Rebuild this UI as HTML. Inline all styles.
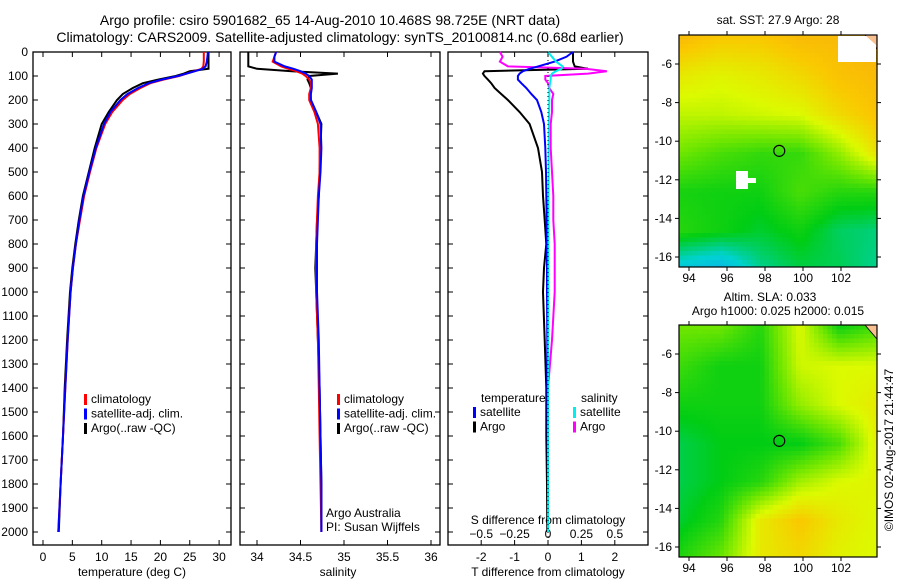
<!DOCTYPE html>
<html><head><meta charset="utf-8"><style>
body{margin:0;background:#fff;width:900px;height:580px;overflow:hidden}
svg{font-family:"Liberation Sans",sans-serif;font-size:12px}
</style></head><body>
<svg id="s" width="900" height="580" xmlns="http://www.w3.org/2000/svg">
<text x="330" y="25" text-anchor="middle" font-size="14">Argo profile: csiro 5901682_65 14-Aug-2010 10.468S 98.725E (NRT data)</text>
<text x="340" y="42" text-anchor="middle" font-size="14">Climatology: CARS2009. Satellite-adjusted climatology: synTS_20100814.nc (0.68d earlier)</text>
</svg>
<script>
// ---- data ----
const depths=[0,20,40,60,70,80,90,100,115,130,150,175,200,250,300,400,500,600,700,800,900,1000,1200,1400,1600,1800,2000];
const tClim=[27.4,27.4,27.4,27.3,27.0,25.8,24.5,23.2,20.5,18.3,16.6,14.8,13.6,11.8,10.6,9.1,8.0,7.0,6.3,5.6,5.1,4.7,4.2,3.8,3.4,3.0,2.6];
const tSat=[28.1,28.0,27.9,27.7,27.2,25.9,24.5,23.0,20.2,18.0,16.2,14.4,13.2,11.5,10.4,9.0,7.9,6.9,6.2,5.6,5.1,4.7,4.2,3.8,3.4,3.0,2.6];
const tArgo=[28.2,28.2,28.2,28.2,28.2,25.0,24.0,22.6,19.6,17.0,15.3,13.6,12.6,11.2,10.0,8.8,7.8,6.8,6.1,5.5,5.0,4.6,4.1,3.7,3.4,3.0,2.7];
const sClim=[34.22,34.2,34.18,34.28,34.36,34.45,34.52,34.56,34.6,34.62,34.62,34.6,34.6,34.66,34.7,34.72,34.72,34.7,34.69,34.68,34.68,34.68,34.7,34.71,34.72,34.73,34.74];
const sSat=[34.22,34.2,34.2,34.32,34.42,34.5,34.56,34.6,34.63,34.63,34.63,34.62,34.62,34.68,34.73,34.74,34.73,34.71,34.7,34.69,34.69,34.69,34.71,34.72,34.73,34.74,34.74];
const sArgo=[33.9,33.9,33.9,33.9,34.0,34.4,34.93,34.6,34.58,34.6,34.62,34.61,34.62,34.68,34.74,34.73,34.72,34.71,34.69,34.68,34.67,34.68,34.7,34.72,34.73,34.74,34.74];
const dTsat=[0.75,0.55,0.2,-0.3,-0.55,-0.75,-0.85,-0.9,-0.9,-0.8,-0.65,-0.5,-0.33,-0.2,-0.12,-0.08,-0.06,-0.05,-0.04,-0.03,-0.03,-0.03,-0.02,-0.02,-0.01,0,0];
const dTargo=[0.75,0.75,0.75,0.8,1.2,-1.9,-1.95,-1.9,-1.8,-1.7,-1.6,-1.4,-1.2,-0.85,-0.55,-0.3,-0.18,-0.15,-0.1,-0.05,-0.12,-0.15,-0.1,-0.05,-0.05,-0.03,-0.02];
const dSsat=[0,0.03,0.06,0.11,0.1,0.06,0.03,0.02,0.02,0.015,0.01,0.01,0.01,0.008,0.006,0.005,0.005,0.004,0.004,0.003,0.003,0.003,0.002,0.002,0.001,0.001,0.001];
const dSargo=[-0.36,-0.34,-0.36,-0.3,0.28,0.44,0.3,-0.02,-0.02,0,0.01,0.04,0.03,0.03,0.02,0.02,0.03,0.04,0.04,0.05,0.05,0.05,0.03,0.0,0.0,0.0,0.0];
const tTicks=[0,5,10,15,20,25,30];
const sTicks=[34,34.5,35,35.5,36];
const dtTicks=[-2,-1,0,1,2];
const dsTicks=[-0.5,-0.25,0,0.25,0.5];
const dsTickLabels=["-0.5","-0.25","0","0.25","0.5"];
const depthTicks=[0,100,200,300,400,500,600,700,800,900,1000,1100,1200,1300,1400,1500,1600,1700,1800,1900,2000];
const lonTicks=[94,96,98,100,102];
const latTicks=[-6,-8,-10,-12,-14,-16];
const sstField=[[0.9,0.85,0.85,0.9,0.9,0.95],[0.75,0.72,0.75,0.8,0.87,0.9],[0.66,0.66,0.68,0.7,0.8,0.87],[0.55,0.5,0.47,0.47,0.6,0.78],[0.43,0.42,0.42,0.5,0.45,0.45],[0.45,0.42,0.38,0.42,0.34,0.32],[0.2,0.15,0.3,0.36,0.35,0.3]];
const slaField=[[0.55,0.55,0.45,0.7,0.42,0.5],[0.48,0.42,0.42,0.68,0.7,0.7],[0.42,0.42,0.42,0.6,0.7,0.75],[0.36,0.4,0.4,0.4,0.5,0.75],[0.36,0.4,0.45,0.62,0.7,0.72],[0.38,0.45,0.75,0.85,0.75,0.7],[0.45,0.55,0.75,0.8,0.72,0.7]];

// ---- drawing ----
const S=document.getElementById('s');const NS="http://www.w3.org/2000/svg";
function el(t,a,txt){const e=document.createElementNS(NS,t);for(const k in a)e.setAttribute(k,a[k]);if(txt!==undefined)e.textContent=txt;S.appendChild(e);return e;}
const top0=52,bot=545,yD=d=>top0+d*0.24;
function panel(x0,x1,name){const r=el('rect',{x:x0,y:top0,width:x1-x0,height:bot-top0,fill:'none',stroke:'#000','stroke-width':1.3});

}
function line(xs,fx,color,name,w){let p='';for(let i=0;i<depths.length;i++){p+=(i?'L':'M')+fx(xs[i]).toFixed(1)+','+yD(depths[i]).toFixed(1);}
const e=el('path',{d:p,fill:'none',stroke:color,'stroke-width':w||2});

}
function xticks(ticks,fx,x0,x1,labels,ly){ticks.forEach((t,i)=>{const x=fx(t);el('line',{x1:x,x2:x,y1:bot,y2:bot-5,stroke:'#000'});el('line',{x1:x,x2:x,y1:top0,y2:top0+5,stroke:'#000'});
if(labels){const e=el('text',{x:x,y:ly,'text-anchor':'middle'},labels[i]);

}});}
function yticks(x0,x1,lab){depthTicks.forEach(d=>{const y=yD(d);el('line',{x1:x0,x2:x0+5,y1:y,y2:y,stroke:'#000'});el('line',{x1:x1,x2:x1-5,y1:y,y2:y,stroke:'#000'});
if(lab){const e=el('text',{x:28,y:y+4,'text-anchor':'end'},String(d));

}});}
function legend(x,y,items){items.forEach((it,i)=>{el('rect',{x:x,y:y+i*14.5-9,width:3,height:11,fill:it[0]});
const e=el('text',{x:x+7,y:y+i*14.5},it[1]);

});}
// panel 1
const fT=t=>43+t*5.87;
panel(33,231,'temperature-panel');yticks(33,231,true);
xticks(tTicks,fT,33,231,tTicks.map(String),561);
line(tArgo,fT,'#000','argo-temperature-line');line(tClim,fT,'#f00','clim-temperature-line');line(tSat,fT,'#00f','sat-temperature-line');
el('text',{x:132,y:576,'text-anchor':'middle'},'temperature (deg C)');
legend(84,403,[['#f00','climatology'],['#00f','satellite-adj. clim.'],['#000','Argo(..raw -QC)']]);
// panel 2
const fS=s=>257+(s-34)*87;
panel(240,440,'salinity-panel');yticks(240,440,false);
xticks(sTicks,fS,240,440,['34','34.5','35','35.5','36'],561);
line(sArgo,fS,'#000','argo-salinity-line');line(sClim,fS,'#f00','clim-salinity-line');line(sSat,fS,'#00f','sat-salinity-line');
el('text',{x:338,y:576,'text-anchor':'middle'},'salinity');
legend(337,403,[['#f00','climatology'],['#00f','satellite-adj. clim.'],['#000','Argo(..raw -QC)']]);
el('text',{x:326,y:517},'Argo Australia');
el('text',{x:326,y:531},'PI: Susan Wijffels');
// panel 3
const fDT=t=>548+t*33.4, fDS=s=>548+s*133.6;
panel(448,648,'difference-panel');yticks(448,648,false);
xticks(dtTicks,fDT,448,648,dtTicks.map(String),561);
dsTicks.forEach((t,i)=>{const e=el('text',{x:fDS(t),y:538,'text-anchor':'middle'},dsTickLabels[i].replace('-','−'));

});
el('text',{x:548,y:524,'text-anchor':'middle'},'S difference from climatology');
el('text',{x:548,y:576,'text-anchor':'middle'},'T difference from climatology');
line(dTargo,fDT,'#000','argo-t-diff-line');line(dSargo,fDS,'#f0f','argo-s-diff-line');line(dTsat,fDT,'#00f','sat-t-diff-line');line(dSsat,fDS,'#0ee','sat-s-diff-line');
el('line',{x1:548,x2:548,y1:top0,y2:bot,stroke:'#000','stroke-dasharray':'1,3'});
el('text',{x:481,y:402},'temperature');el('text',{x:581,y:402},'salinity');
legend(473,416,[['#00f','satellite'],['#000','Argo']]);
legend(573,416,[['#0ee','satellite'],['#f0f','Argo']]);
// maps
const lonX=l=>689+(l-94)*19, latY=(t,top)=>top+29+(-6-t)*19.3;
function cmap(v){const st=[[0,[30,140,255]],[0.25,[0,210,210]],[0.4,[0,205,20]],[0.55,[110,230,0]],[0.7,[220,250,0]],[0.85,[250,200,0]],[1,[245,160,20]]];
for(let i=1;i<st.length;i++){if(v<=st[i][0]){const a=st[i-1],b=st[i],f=(v-a[0])/(b[0]-a[0]);return 'rgb('+a[1].map((c,k)=>Math.round(c+(b[1][k]-c)*f)).join(',')+')';}}return 'rgb(245,160,20)';}
function map(top,field,name){const L=679,R=877,B=top+232,cs=4.5;
const g=el('g',{});
const nr=field.length,nc=field[0].length;
for(let y=top;y<B;y+=cs)for(let x=L;x<R;x+=cs){const fy=(y-top)/(B-top)*(nr-1),fx=(x-L)/(R-L)*(nc-1);const r0=Math.min(Math.floor(fy),nr-2),c0=Math.min(Math.floor(fx),nc-2),dy=fy-r0,dx=fx-c0;
const v=field[r0][c0]*(1-dx)*(1-dy)+field[r0][c0+1]*dx*(1-dy)+field[r0+1][c0]*(1-dx)*dy+field[r0+1][c0+1]*dx*dy;
const c=document.createElementNS(NS,'rect');c.setAttribute('x',x);c.setAttribute('y',y);c.setAttribute('width',Math.min(cs+0.3,R-x));c.setAttribute('height',Math.min(cs+0.3,B-y));c.setAttribute('fill',cmap(v));g.appendChild(c);}
el('path',{d:`M${R-12},${top} L${R},${top} L${R},${top+14} Z`,fill:'#f8c090',stroke:'#000','stroke-width':0.8});
el('circle',{cx:lonX(98.75),cy:latY(-10.5,top),r:5.5,fill:'none',stroke:'#000','stroke-width':1.2});
el('rect',{x:L,y:top,width:R-L,height:B-top,fill:'none',stroke:'#000','stroke-width':1.2});
lonTicks.forEach(l=>{const x=lonX(l);el('line',{x1:x,x2:x,y1:B,y2:B+4,stroke:'#000'});el('line',{x1:x,x2:x,y1:top,y2:top-4,stroke:'#000'});el('text',{x:x,y:B+15,'text-anchor':'middle'},String(l));});
latTicks.forEach(t=>{const y=latY(t,top);el('line',{x1:L,x2:L-4,y1:y,y2:y,stroke:'#000'});el('line',{x1:R,x2:R+4,y1:y,y2:y,stroke:'#000'});el('text',{x:L-7,y:y+4,'text-anchor':'end'},String(t));});}
map(35,sstField,'sst-map');
el('rect',{x:838,y:36,width:38,height:26,fill:'#fff'});el('rect',{x:736,y:171,width:12,height:18,fill:'#fff'});el('rect',{x:736,y:178,width:20,height:5,fill:'#fff'});
el('path',{d:'M876,36 L866,36 L876,45 Z',fill:'#f8c090'});
map(325,slaField,'sla-map');
el('text',{x:778,y:24,'text-anchor':'middle'},'sat. SST: 27.9 Argo: 28');
el('text',{x:770,y:301,'text-anchor':'middle'},'Altim. SLA: 0.033');
el('text',{x:778,y:315,'text-anchor':'middle'},'Argo h1000: 0.025 h2000: 0.015');
el('text',{x:893,y:450,'text-anchor':'middle',transform:'rotate(-90 893 450)'},'©IMOS 02-Aug-2017 21:44:47');
</script>
</body></html>
